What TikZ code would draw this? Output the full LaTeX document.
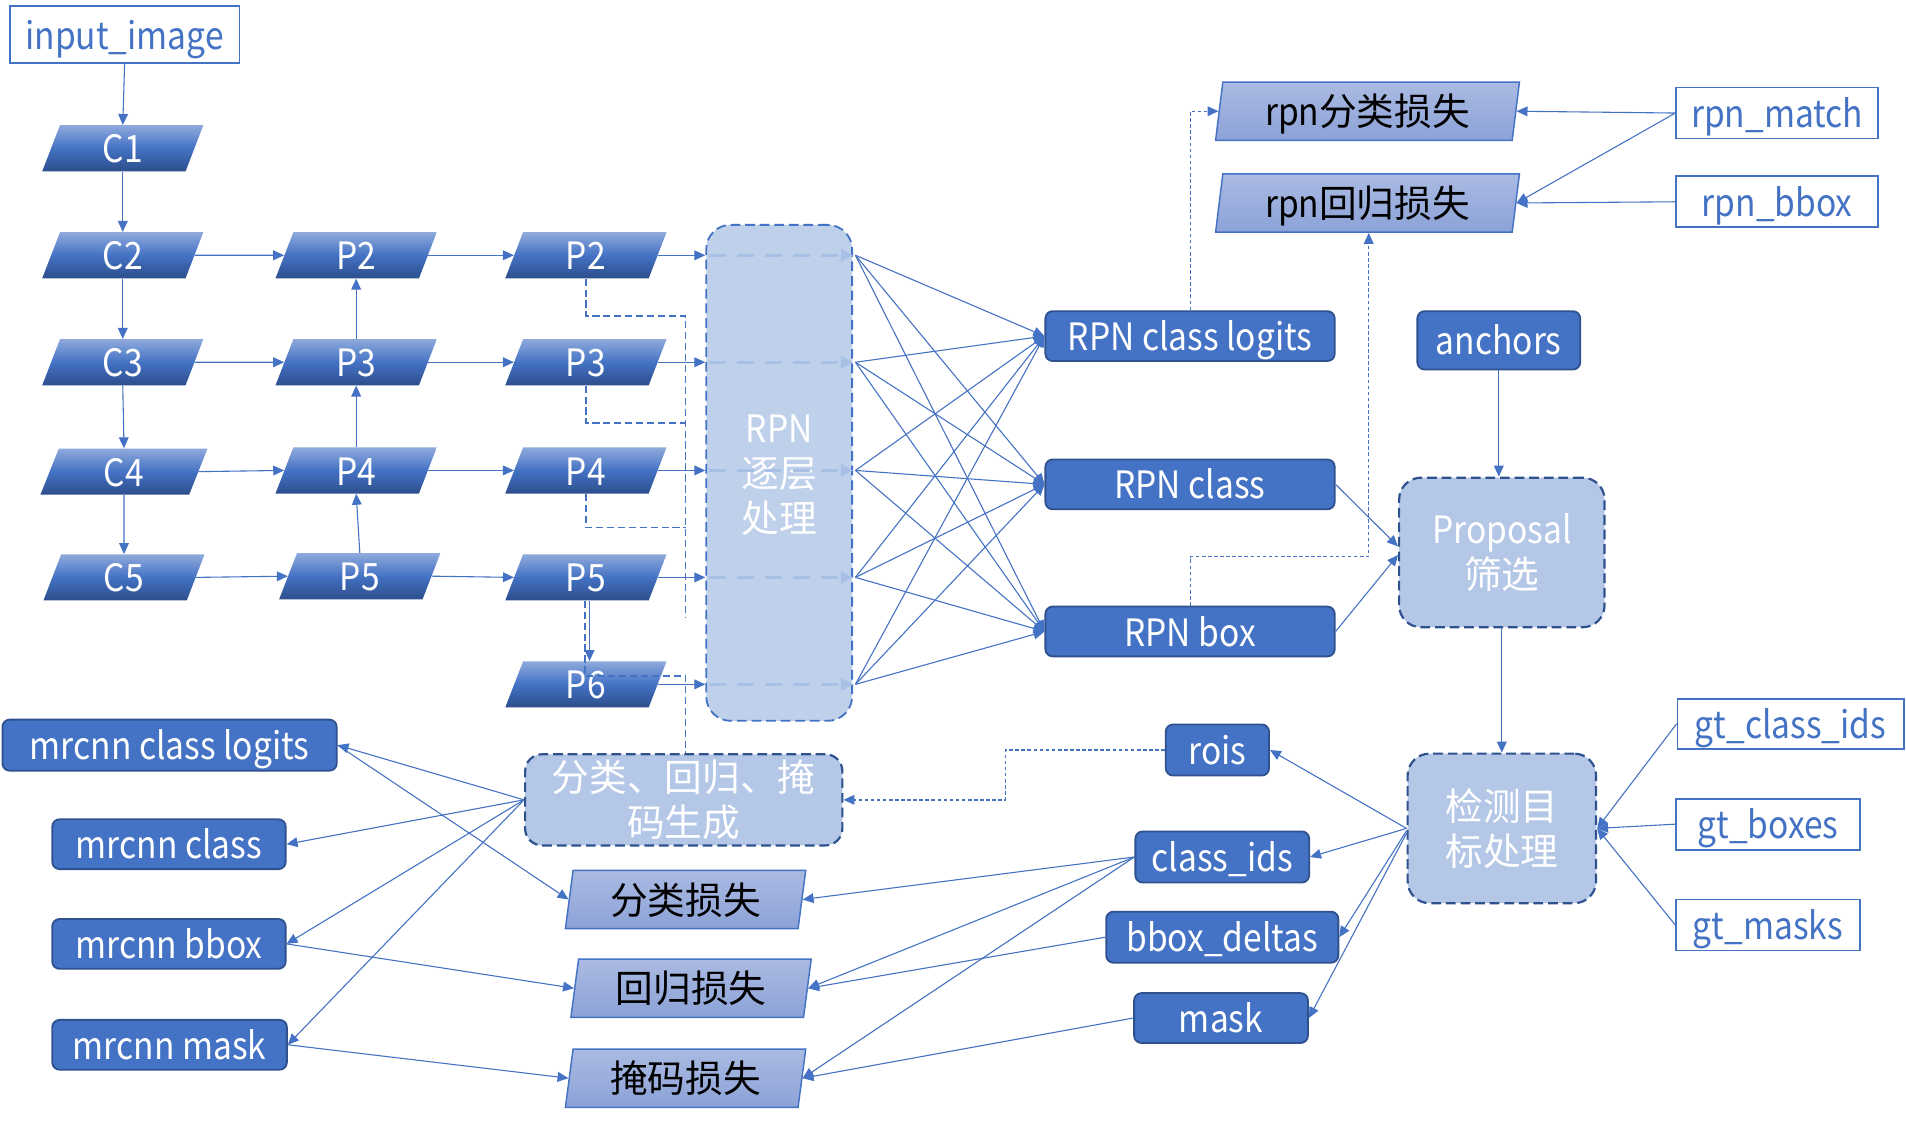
\documentclass[tikz,border=0pt]{standalone}
\usepackage{fontspec}
\setmainfont{Noto Sans CJK SC}
\newfontfamily\latf[FakeStretch=0.89]{Noto Sans CJK SC}
\usetikzlibrary{shapes.geometric,arrows.meta,calc}
\definecolor{mblue}{RGB}{68,114,196}
\definecolor{dblue}{RGB}{47,82,143}
\definecolor{ftop}{RGB}{143,170,220}
\definecolor{fbot}{RGB}{44,78,140}
\definecolor{ltop}{RGB}{170,186,226}
\definecolor{lbot}{RGB}{140,162,215}
\definecolor{rpnfill}{RGB}{191,208,235}
\definecolor{lfill}{RGB}{180,199,231}
\definecolor{innerd}{RGB}{168,191,230}
\newcommand\fsz{\fontsize{31pt}{37pt}\selectfont}
\tikzset{
  feat/.style={trapezium, trapezium left angle=79, trapezium right angle=101,
    trapezium stretches=true, minimum width=133pt, minimum height=38pt, inner sep=0pt,
    top color=ftop, bottom color=fbot, middle color=mblue, text=white, font=\fsz\latf,
    text height=24pt, text depth=0pt},
  loss/.style={trapezium, trapezium left angle=80, trapezium right angle=100,
    trapezium stretches=true, minimum width=#1, minimum height=48pt, inner sep=0pt,
    top color=ltop, bottom color=lbot, draw=mblue, line width=1.2pt, text=black, font=\fsz,
    text height=24pt, text depth=0pt},
  dbox/.style={rectangle, rounded corners=6pt, fill=mblue, draw=dblue, line width=1.5pt,
    text=white, font=\fsz\latf, inner sep=0pt, text height=24pt, text depth=0pt},
  wbox/.style={rectangle, draw=mblue, line width=1.5pt, fill=white, text=mblue,
    font=\fsz\latf, inner sep=0pt, text height=24pt, text depth=0pt},
  lbox/.style={rectangle, rounded corners=18pt, fill=lfill, draw=dblue, line width=1.8pt,
    dash pattern=on 8pt off 4pt, text=white, align=center, font=\fsz, inner sep=0pt},
  conn/.style={draw=mblue, line width=0.9pt, -{Triangle[length=9pt,width=8pt]}},
  dashP/.style={draw=mblue, line width=1.5pt, dash pattern=on 6pt off 3pt},
  dotc/.style={draw=mblue, line width=0.9pt, dash pattern=on 3pt off 2pt, -{Triangle[length=9pt,width=8pt]}},
  inner/.style={draw=innerd, line width=2.5pt, dash pattern=on 14pt off 9pt,
    -{Triangle[length=10pt,width=10pt]}},
}
\begin{document}
\begin{tikzpicture}[x=1pt,y=-1pt]
\useasboundingbox[fill=white] (0,0) rectangle (1568,925);

% backbone
\node[wbox, minimum width=189pt, minimum height=47pt] (inp) at (102.5,28.5) {input\_image};
\node[feat] (C1) at (101,122) {C1};
\node[feat] (C2) at (101,210) {C2};
\node[feat] (C3) at (101,298) {C3};
\node[feat, minimum width=138pt] (C4) at (102,388) {C4};
\node[feat] (C5) at (102,475) {C5};
\node[feat] (P2a) at (293,210) {P2};
\node[feat] (P3a) at (293,298) {P3};
\node[feat] (P4a) at (293,387) {P4};
\node[feat] (P5a) at (296,474) {P5};
\node[feat] (P2b) at (482,210) {P2};
\node[feat] (P3b) at (482,298) {P3};
\node[feat] (P4b) at (482,387) {P4};
\node[feat] (P5b) at (482,475) {P5};
\node[feat] (P6) at (482,563) {P6};

% RPN
\node[rectangle, rounded corners=20pt, fill=rpnfill, draw=mblue, line width=1.5pt,
  dash pattern=on 8pt off 4pt, minimum width=120pt, minimum height=408pt, inner sep=0pt]
  (RPN) at (641,389) {};
\node[text=white, align=center, font=\fsz] (RPNt) at (641,391) {{\latf RPN}\\逐层\\处理};

\node[dbox, minimum width=238pt, minimum height=41pt] (RPNcl) at (979,276.5) {RPN class logits};
\node[dbox, minimum width=238pt, minimum height=41pt] (RPNc) at (979,398.5) {RPN class};
\node[dbox, minimum width=238pt, minimum height=41pt] (RPNb) at (979,519.5) {RPN box};

\node[loss=250pt] (rpncls) at (1125,91.5) {{\latf rpn}分类损失};
\node[loss=250pt] (rpnreg) at (1125,167) {{\latf rpn}回归损失};
\node[wbox, minimum width=166pt, minimum height=42pt] (rpnm) at (1462,93) {rpn\_match};
\node[wbox, minimum width=166pt, minimum height=42pt] (rpnbb) at (1462,166) {rpn\_bbox};

\node[dbox, minimum width=134pt, minimum height=48pt] (anch) at (1233,280) {anchors};
\node[lbox, minimum width=169pt, minimum height=123pt] (prop) at (1235.5,454.5) {{\latf Proposal}\\筛选};
\node[lbox, minimum width=155pt, minimum height=123pt] (det) at (1235.5,681.5) {检测目\\标处理};

\node[wbox, minimum width=186pt, minimum height=41pt] (gtc) at (1473,595.5) {gt\_class\_ids};
\node[wbox, minimum width=151pt, minimum height=42pt] (gtb) at (1454.5,678) {gt\_boxes};
\node[wbox, minimum width=151pt, minimum height=42pt] (gtm) at (1454.5,761) {gt\_masks};

\node[dbox, minimum width=85pt, minimum height=42pt] (rois) at (1001.5,617) {rois};
\node[dbox, minimum width=143pt, minimum height=42pt] (cids) at (1005.5,705) {class\_ids};
\node[dbox, minimum width=191pt, minimum height=42pt] (bbd) at (1005.5,771) {bbox\_deltas};
\node[dbox, minimum width=143pt, minimum height=41pt] (msk) at (1004.5,837.5) {mask};

\node[lbox, rounded corners=14pt, minimum width=261pt, minimum height=75pt] (head) at (562.5,658) {分类、回归、掩\\码生成};

\node[dbox, minimum width=275pt, minimum height=42pt] (mcl) at (139.5,613) {mrcnn class logits};
\node[dbox, minimum width=192pt, minimum height=41pt] (mc) at (139,694.5) {mrcnn class};
\node[dbox, minimum width=192pt, minimum height=41pt] (mb) at (139,776.5) {mrcnn bbox};
\node[dbox, minimum width=193pt, minimum height=41pt] (mm) at (139.5,859.5) {mrcnn mask};

\node[loss=198pt] (lcls) at (564,740) {分类损失};
\node[loss=198pt] (lreg) at (568.5,813) {回归损失};
\node[loss=198pt] (lmask) at (564,887) {掩码损失};

% backbone connectors
\draw[conn] (inp.south) -- (C1.north);
\draw[conn] (C1.south) -- (C2.north);
\draw[conn] (C2.south) -- (C3.north);
\draw[conn] (C3.south) -- (C4.north);
\draw[conn] (C4.south) -- (C5.north);
\draw[conn] (C2.east) -- (P2a.west);
\draw[conn] (C3.east) -- (P3a.west);
\draw[conn] (C4.east) -- (P4a.west);
\draw[conn] (C5.east) -- (P5a.west);
\draw[conn] (P5a.north) -- (P4a.south);
\draw[conn] (P4a.north) -- (P3a.south);
\draw[conn] (P3a.north) -- (P2a.south);
\draw[conn] (P2a.east) -- (P2b.west);
\draw[conn] (P3a.east) -- (P3b.west);
\draw[conn] (P4a.east) -- (P4b.west);
\draw[conn] (P5a.east) -- (P5b.west);
\draw[conn] ([xshift=3pt]P5b.south) -- ([xshift=3pt]P6.north);

% dashed feature routes
\coordinate (j2) at (564,260);
\coordinate (j3) at (564,348);
\coordinate (j4) at (564,434);
\coordinate (jb) at (564,508);
\coordinate (j6) at (564,556);
\draw[dashP] (P2b.south) |- (j2) -- (jb);
\draw[dashP] (P3b.south) |- (j3);
\draw[dashP] (P4b.south) |- (j4);
\draw[dashP] ([xshift=-1pt]P5b.south) |- (j6) -- (j6 |- head.north);

% into RPN and inner dashed lines
\foreach \p in {P2b,P3b,P4b,P5b,P6}{
  \draw[conn] (\p.east) -- (RPN.west |- \p.east);
  \draw[inner, shorten <=3pt] (RPN.west |- \p.east) -- (RPN.east |- \p.east);
}
% fan to RPN outputs
\foreach \p in {P2b,P3b,P4b,P5b,P6}{
  \foreach \t in {RPNcl,RPNc,RPNb}{
    \draw[conn] ([xshift=2pt]RPN.east |- \p.east) -- (\t.west);
  }
}

% RPN losses
\draw[dotc] (RPNcl.north) |- (rpncls.west);
\coordinate (kb) at (1126,458);
\draw[dotc] (RPNb.north) |- (kb) -- (kb |- rpnreg.south);
\draw[conn] (rpnm.west) -- (rpncls.east);
\draw[conn] (rpnm.west) -- (rpnreg.east);
\draw[conn] (rpnbb.west) -- (rpnreg.east);

% proposal
\draw[conn] (anch.south) -- (anch.south |- prop.north);
\draw[conn] (RPNc.east) -- ([yshift=5pt]prop.west);
\draw[conn] (RPNb.east) -- ([yshift=-2pt]prop.west);
\draw[conn] (prop.south) -- (prop.south |- det.north);

% detection target
\draw[conn] (gtc.west) -- (det.east);
\draw[conn] (gtb.west) -- (det.east);
\draw[conn] (gtm.west) -- (det.east);
\draw[conn] (det.west) -- (rois.east);
\draw[conn] (det.west) -- (cids.east);
\draw[conn] ([yshift=-2pt]det.west) -- (bbd.east);
\draw[conn] ([yshift=-4pt]det.west) -- (msk.east);

\coordinate (rk) at (827,617);
\draw[dotc, line width=1.2pt] (rois.west) -- (rk) |- (head.east);

% heads
\draw[conn] (head.west) -- (mcl.east);
\draw[conn] (head.west) -- (mc.east);
\draw[conn] (head.west) -- (mb.east);
\draw[conn] (head.west) -- (mm.east);
\draw[conn] (mcl.east) -- (lcls.west);
\draw[conn] (mb.east) -- (lreg.west);
\draw[conn] (mm.east) -- (lmask.west);
\draw[conn] (cids.west) -- (lcls.east);
\draw[conn] (cids.west) -- (lreg.east);
\draw[conn] (cids.west) -- (lmask.east);
\draw[conn] (bbd.west) -- (lreg.east);
\draw[conn] (msk.west) -- (lmask.east);
\end{tikzpicture}
\end{document}
